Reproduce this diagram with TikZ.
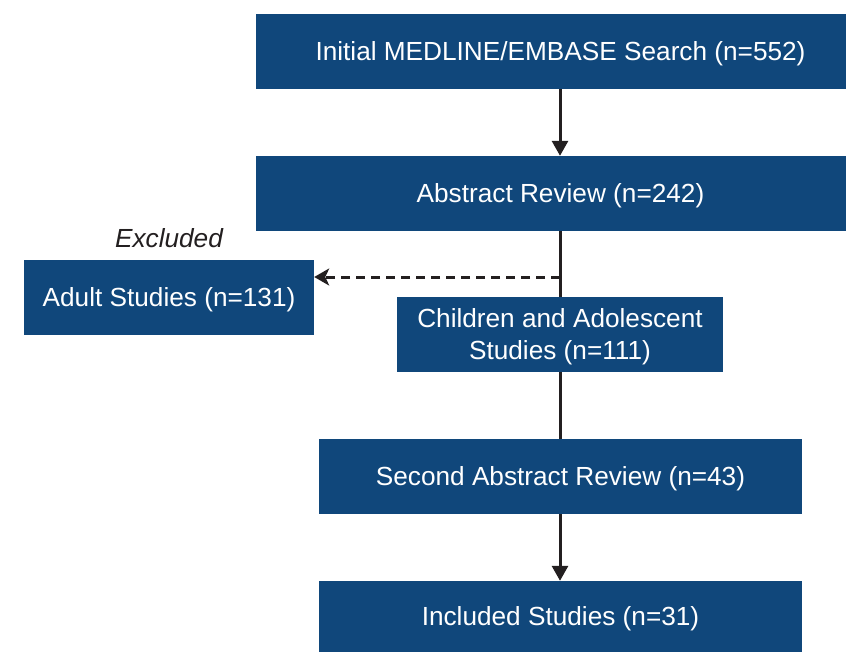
\documentclass[tikz,border=0pt]{standalone}
\usepackage{fontspec}
\setmainfont{Liberation Sans}
\usetikzlibrary{arrows.meta}
\definecolor{boxblue}{RGB}{16,71,123}
\definecolor{lineblk}{RGB}{35,31,32}
\begin{document}
\begin{tikzpicture}[x=1pt,y=-1pt,
  flowbox/.style={fill=boxblue,draw=none,text=white,font=\fontsize{26.2}{32}\selectfont,align=center,inner sep=0pt,text depth=0pt},
  conn/.style={draw=lineblk,line width=3pt},
  arr/.style={conn,-{Triangle[length=15pt,width=16pt]}},
  darr/.style={draw=lineblk,line width=3pt,dash pattern=on 9pt off 6pt,-{Stealth[length=15pt,width=17pt,inset=4pt]}}]
\useasboundingbox (0,0) rectangle (848,652);
\node[flowbox,minimum width=590pt,minimum height=75pt] (b1) at (551,51.5) {\hspace*{19pt}Initial MEDLINE/EMBASE Search (n=552)};
\node[flowbox,minimum width=590pt,minimum height=75pt] (b2) at (551,193.5) {\hspace*{19pt}Abstract Review (n=242)};
\node[font=\itshape\fontsize{26.2}{32}\selectfont,text=lineblk] (ex) at (169,238) {Excluded};
\node[flowbox,minimum width=290pt,minimum height=75pt] (ad) at (169,297.5) {Adult Studies (n=131)};
\node[flowbox,minimum width=326pt,minimum height=75pt] (ch) at (560,334.5) {Children and Adolescent\\Studies (n=111)};
\node[flowbox,minimum width=483pt,minimum height=75pt] (sa) at (560.5,476.5) {Second Abstract Review (n=43)};
\node[flowbox,minimum width=483pt,minimum height=71pt] (inc) at (560.5,616.5) {Included Studies (n=31)};
\coordinate (split) at (560,277);
\draw[arr] (b1.south -| split) -- (b2.north -| split);
\draw[conn] (b2.south -| split) -- (ch.north -| split);
\draw[conn] (ch.south -| split) -- (sa.north -| split);
\draw[arr] (sa.south -| split) -- (inc.north -| split);
\draw[darr] (split) -- (ad.east |- split);
\end{tikzpicture}
\end{document}
